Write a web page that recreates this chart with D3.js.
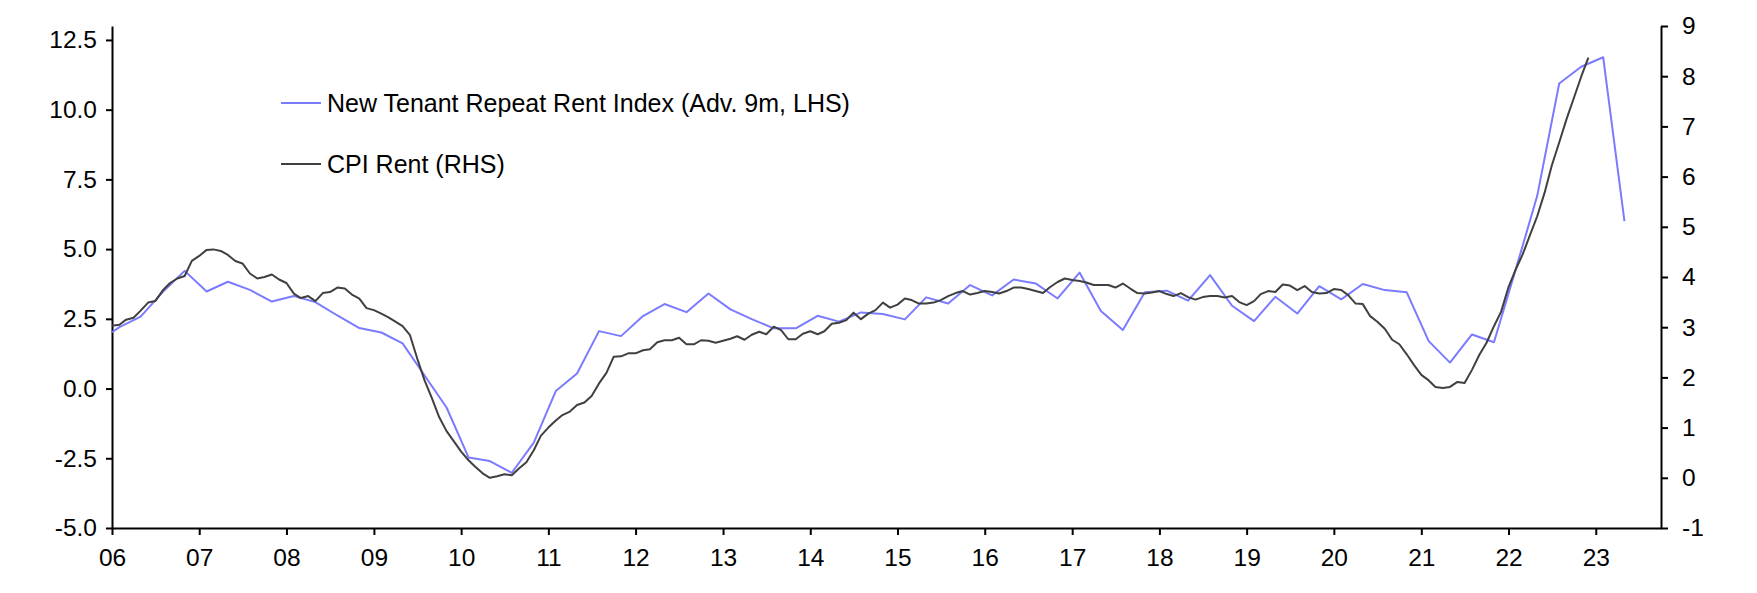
<!DOCTYPE html>
<html>
<head>
<meta charset="utf-8">
<script src="https://cdn.jsdelivr.net/npm/d3@7"></script>
<style>
  body { margin: 0; background: #fff; }
  text { font-family: "Liberation Sans", Arial, sans-serif; fill: #000; }
</style>
</head>
<body>
<svg width="1757" height="593"></svg>
<script>
// tick labels
const yearLabels = ["06","07","08","09","10","11","12","13","14","15","16","17","18","19","20","21","22","23"];
const leftTicks = [-5, -2.5, 0, 2.5, 5, 7.5, 10, 12.5];
const rightTicks = [-1, 0, 1, 2, 3, 4, 5, 6, 7, 8, 9];

// New Tenant Repeat Rent Index, advanced 9m (LHS)
const ntriMonths = [
  "2006-01","2006-02","2006-05","2006-08","2006-11",
  "2007-02","2007-05","2007-08","2007-11",
  "2008-02","2008-05","2008-08","2008-11",
  "2009-02","2009-05","2009-08","2009-11",
  "2010-02","2010-05","2010-08","2010-11",
  "2011-02","2011-05","2011-08","2011-11",
  "2012-02","2012-05","2012-08","2012-11",
  "2013-02","2013-05","2013-08","2013-11",
  "2014-02","2014-05","2014-08","2014-11",
  "2015-02","2015-05","2015-08","2015-11",
  "2016-02","2016-05","2016-08","2016-11",
  "2017-02","2017-05","2017-08","2017-11",
  "2018-02","2018-05","2018-08","2018-11",
  "2019-02","2019-05","2019-08","2019-11",
  "2020-02","2020-05","2020-08","2020-11",
  "2021-02","2021-05","2021-08","2021-11",
  "2022-02","2022-05","2022-08","2022-11",
  "2023-02","2023-05"
];
const ntriValues = [
  2.02, 2.20, 2.58, 3.46, 4.22,
  3.48, 3.83, 3.54, 3.12,
  3.32, 3.10, 2.62, 2.17,
  2.01, 1.62, 0.47, -0.68,
  -2.47, -2.60, -3.02, -1.94,
  -0.09, 0.54, 2.06, 1.88,
  2.60, 3.03, 2.74, 3.41,
  2.84, 2.49, 2.16, 2.16,
  2.61, 2.40, 2.73, 2.67,
  2.48, 3.27, 3.05, 3.71,
  3.34, 3.91, 3.77, 3.23,
  4.16, 2.78, 2.10, 3.45,
  3.51, 3.15, 4.07, 2.97,
  2.42, 3.29, 2.69, 3.67,
  3.20, 3.75, 3.53, 3.45,
  1.70, 0.93, 1.94, 1.66,
  4.30, 6.91, 10.94, 11.54,
  11.88, 6.00
];

// CPI Rent (RHS), monthly from Jan 2006
const cpiStart = "2006-01";
const cpiValues = [
  3.03, 3.05, 3.15, 3.19, 3.33, 3.49, 3.52, 3.73, 3.88, 3.97, 4.02, 4.32,
  4.42, 4.54, 4.55, 4.52, 4.44, 4.32, 4.27, 4.07, 3.97, 4.00, 4.05, 3.95,
  3.88, 3.67, 3.58, 3.62, 3.52, 3.68, 3.70, 3.79, 3.77, 3.65, 3.57, 3.38,
  3.34, 3.27, 3.20, 3.11, 3.02, 2.84, 2.38, 1.94, 1.58, 1.21, 0.93, 0.73,
  0.52, 0.35, 0.22, 0.09, 0.00, 0.03, 0.07, 0.05, 0.19, 0.31, 0.55, 0.84,
  1.00, 1.14, 1.25, 1.32, 1.45, 1.50, 1.63, 1.88, 2.09, 2.41, 2.42, 2.48,
  2.48, 2.54, 2.56, 2.70, 2.74, 2.74, 2.79, 2.66, 2.66, 2.74, 2.73, 2.69,
  2.73, 2.77, 2.82, 2.75, 2.85, 2.91, 2.86, 3.01, 2.94, 2.76, 2.76, 2.87,
  2.92, 2.86, 2.92, 3.07, 3.09, 3.14, 3.29, 3.16, 3.27, 3.34, 3.49, 3.39,
  3.45, 3.57, 3.54, 3.47, 3.47, 3.49, 3.54, 3.62, 3.68, 3.72, 3.65, 3.68,
  3.72, 3.70, 3.67, 3.72, 3.79, 3.79, 3.76, 3.72, 3.68, 3.80, 3.90, 3.97,
  3.94, 3.92, 3.89, 3.84, 3.84, 3.84, 3.79, 3.87, 3.77, 3.68, 3.67, 3.69,
  3.72, 3.66, 3.62, 3.68, 3.60, 3.55, 3.60, 3.62, 3.62, 3.59, 3.62, 3.50,
  3.44, 3.52, 3.66, 3.72, 3.70, 3.85, 3.83, 3.74, 3.82, 3.70, 3.67, 3.68,
  3.76, 3.74, 3.64, 3.47, 3.46, 3.22, 3.11, 2.97, 2.75, 2.66, 2.46, 2.25,
  2.05, 1.94, 1.81, 1.79, 1.81, 1.91, 1.89, 2.15, 2.45, 2.69, 3.02, 3.31,
  3.80, 4.16, 4.45, 4.84, 5.21, 5.68, 6.22, 6.68, 7.15, 7.56, 7.99, 8.37
];

const legendNames = ["New Tenant Repeat Rent Index (Adv. 9m, LHS)", "CPI Rent (RHS)"];
const lineColors = ["#7b7bff", "#404040"];

const svg = d3.select("svg");
const parse = d3.timeParse("%Y-%m");

const x = d3.scaleTime()
    .domain([new Date(2006, 0, 1), new Date(2023, 9, 1)])
    .range([112, 1661]);
const yL = d3.scaleLinear().domain([-5, 13]).range([528, 26]);
const yR = d3.scaleLinear().domain([-1, 9]).range([528, 26]);

const ntri = ntriMonths.map((m, i) => ({date: parse(m), value: ntriValues[i]}));
const cpi0 = parse(cpiStart);
const cpi = cpiValues.map((v, i) => ({date: d3.timeMonth.offset(cpi0, i), value: v}));

// axes
const xAxis = d3.axisBottom(x)
    .tickValues(yearLabels.map(s => new Date(2000 + (+s), 0, 1)))
    .tickFormat((d, i) => yearLabels[i])
    .tickSize(7).tickPadding(14).tickSizeOuter(0);
const leftAxis = d3.axisLeft(yL)
    .tickValues(leftTicks)
    .tickFormat(d => d.toFixed(1))
    .tickSize(6).tickPadding(9).tickSizeOuter(0);
const rightAxis = d3.axisRight(yR)
    .tickValues(rightTicks)
    .tickFormat(d => String(d))
    .tickSize(7).tickPadding(14).tickSizeOuter(0);

function styleAxis(g) {
  g.selectAll("path, line").attr("stroke", "#000").attr("stroke-width", 2);
  g.selectAll("text").attr("font-size", 24.5).attr("fill", "#000")
    .attr("font-family", '"Liberation Sans", Arial, sans-serif');
}

svg.append("g").attr("transform", "translate(0,528)").call(xAxis).call(styleAxis);
svg.append("g").attr("transform", "translate(112,0)").call(leftAxis).call(styleAxis);
svg.append("g").attr("transform", "translate(1661,0)").call(rightAxis).call(styleAxis);

// lines
const lineL = d3.line().x(d => x(d.date)).y(d => yL(d.value));
const lineR = d3.line().x(d => x(d.date)).y(d => yR(d.value));

svg.append("path")
    .datum(ntri)
    .attr("d", lineL)
    .attr("fill", "none")
    .attr("stroke", lineColors[0])
    .attr("stroke-width", 2)
    .attr("stroke-linejoin", "round");

svg.append("path")
    .datum(cpi)
    .attr("d", lineR)
    .attr("fill", "none")
    .attr("stroke", lineColors[1])
    .attr("stroke-width", 2)
    .attr("stroke-linejoin", "round");

// legend
const legend = svg.append("g").attr("transform", "translate(281,103)");
const items = legend.selectAll("g")
    .data(legendNames)
    .enter()
    .append("g")
    .attr("transform", (d, i) => `translate(0, ${i * 61})`);

items.append("line")
    .attr("x1", 0).attr("x2", 40)
    .attr("y1", 0).attr("y2", 0)
    .attr("stroke", (d, i) => lineColors[i])
    .attr("stroke-width", 2);

items.append("text")
    .attr("x", 46)
    .attr("dy", "0.35em")
    .attr("font-size", 25)
    .text(d => d);
</script>
</body>
</html>
